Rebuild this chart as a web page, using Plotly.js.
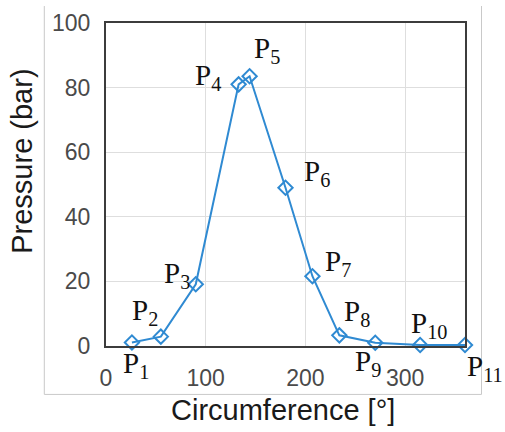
<!DOCTYPE html>
<html>
<head>
<meta charset="utf-8">
<script src="https://cdn.plot.ly/plotly-3.0.1.min.js"></script>
<style>
  html, body { margin: 0; padding: 0; background: #ffffff; }
  #chart { width: 505px; height: 432px; }
</style>
</head>
<body>
<div id="chart"></div>
<script>
// Measured pressure around the circumference
const pointNames = ['P1', 'P2', 'P3', 'P4', 'P5', 'P6', 'P7', 'P8', 'P9', 'P10', 'P11'];
const circumference = [26, 55, 90, 133, 144, 180, 207, 234, 270, 315, 360];
const pressure = [1.1, 2.9, 19.1, 81.0, 83.5, 49.0, 21.6, 3.3, 1.0, 0.3, 0.3];

const xTicks = [0, 100, 200, 300];
const yTicks = [0, 20, 40, 60, 80, 100];

// Label placement next to each marker, in pixels (right, down)
const labelOffsets = [
  [4, 23], [-16, -25], [-19, -9], [-31, -7], [17, -26], [31, -15],
  [26, -13], [18, -22], [-7, 20], [9, -20], [20, 23]
];

const blue = '#2f8ad2';
const W = 505, H = 432;
const plotLeft = 106, plotRight = 465, plotTop = 23, plotBottom = 346.5;
const pw = plotRight - plotLeft, ph = plotBottom - plotTop;
const px2paperX = px => (px - plotLeft) / pw;
const px2paperY = py => (plotBottom - py) / ph;

const trace = {
  x: circumference,
  y: pressure,
  type: 'scatter',
  mode: 'lines+markers',
  line: { color: blue, width: 2 },
  marker: { symbol: 'diamond-open', size: 11, color: blue, line: { color: blue, width: 2 } },
  cliponaxis: false,
  hoverinfo: 'skip'
};

const pointLabels = pointNames.map((name, i) => ({
  x: circumference[i],
  y: pressure[i],
  xref: 'x', yref: 'y',
  text: name.replace(/^P(\d+)$/, 'P<sub>$1</sub>'),
  showarrow: false,
  xanchor: 'center', yanchor: 'middle',
  xshift: labelOffsets[i][0],
  yshift: -labelOffsets[i][1],
  font: { family: 'Liberation Serif, Times New Roman, serif', size: 29, color: '#111111' }
}));

const titles = [
  {
    text: 'Pressure (bar)',
    xref: 'paper', yref: 'paper',
    x: px2paperX(22), y: px2paperY(162),
    textangle: -90, showarrow: false,
    xanchor: 'center', yanchor: 'middle',
    font: { family: 'Liberation Sans, Arial, sans-serif', size: 29, color: '#1a1a1a' }
  },
  {
    text: 'Circumference [°]',
    xref: 'paper', yref: 'paper',
    x: px2paperX(283), y: px2paperY(411),
    showarrow: false,
    xanchor: 'center', yanchor: 'middle',
    font: { family: 'Liberation Sans, Arial, sans-serif', size: 29, color: '#1a1a1a' }
  }
];

// Light outer frame around the figure
const frameColor = '#c9c9c9';
const fL = px2paperX(44.3), fR = px2paperX(481.5), fB = px2paperY(395), fT = px2paperY(6);
const frame = [
  { type: 'line', xref: 'paper', yref: 'paper', x0: fL, x1: fL, y0: fB, y1: fT, line: { color: frameColor, width: 1 } },
  { type: 'line', xref: 'paper', yref: 'paper', x0: fR, x1: fR, y0: fB, y1: fT, line: { color: frameColor, width: 1 } },
  { type: 'line', xref: 'paper', yref: 'paper', x0: fL, x1: fR, y0: fB, y1: fB, line: { color: frameColor, width: 1 } }
];

const axisCommon = {
  showline: true,
  mirror: true,
  linecolor: '#3c3c3c',
  linewidth: 2,
  showgrid: true,
  gridcolor: '#dedede',
  gridwidth: 1,
  zeroline: false,
  ticks: '',
  tickfont: { family: 'Liberation Sans, Arial, sans-serif', size: 23, color: '#4a4a4a' },
  fixedrange: true
};

const layout = {
  width: W,
  height: H,
  margin: { l: plotLeft, r: W - plotRight, t: plotTop, b: H - plotBottom, pad: 0 },
  paper_bgcolor: '#ffffff',
  plot_bgcolor: '#ffffff',
  showlegend: false,
  xaxis: Object.assign({}, axisCommon, {
    range: [0, 360],
    tickmode: 'array',
    tickvals: xTicks,
    ticktext: xTicks.map(String),
    ticklabelstandoff: 10
  }),
  yaxis: Object.assign({}, axisCommon, {
    range: [0, 100],
    tickmode: 'array',
    tickvals: yTicks,
    ticktext: yTicks.map(String),
    ticklabelstandoff: 9
  }),
  annotations: pointLabels.concat(titles),
  shapes: frame
};

Plotly.newPlot('chart', [trace], layout, { displayModeBar: false, staticPlot: true });
</script>
</body>
</html>
